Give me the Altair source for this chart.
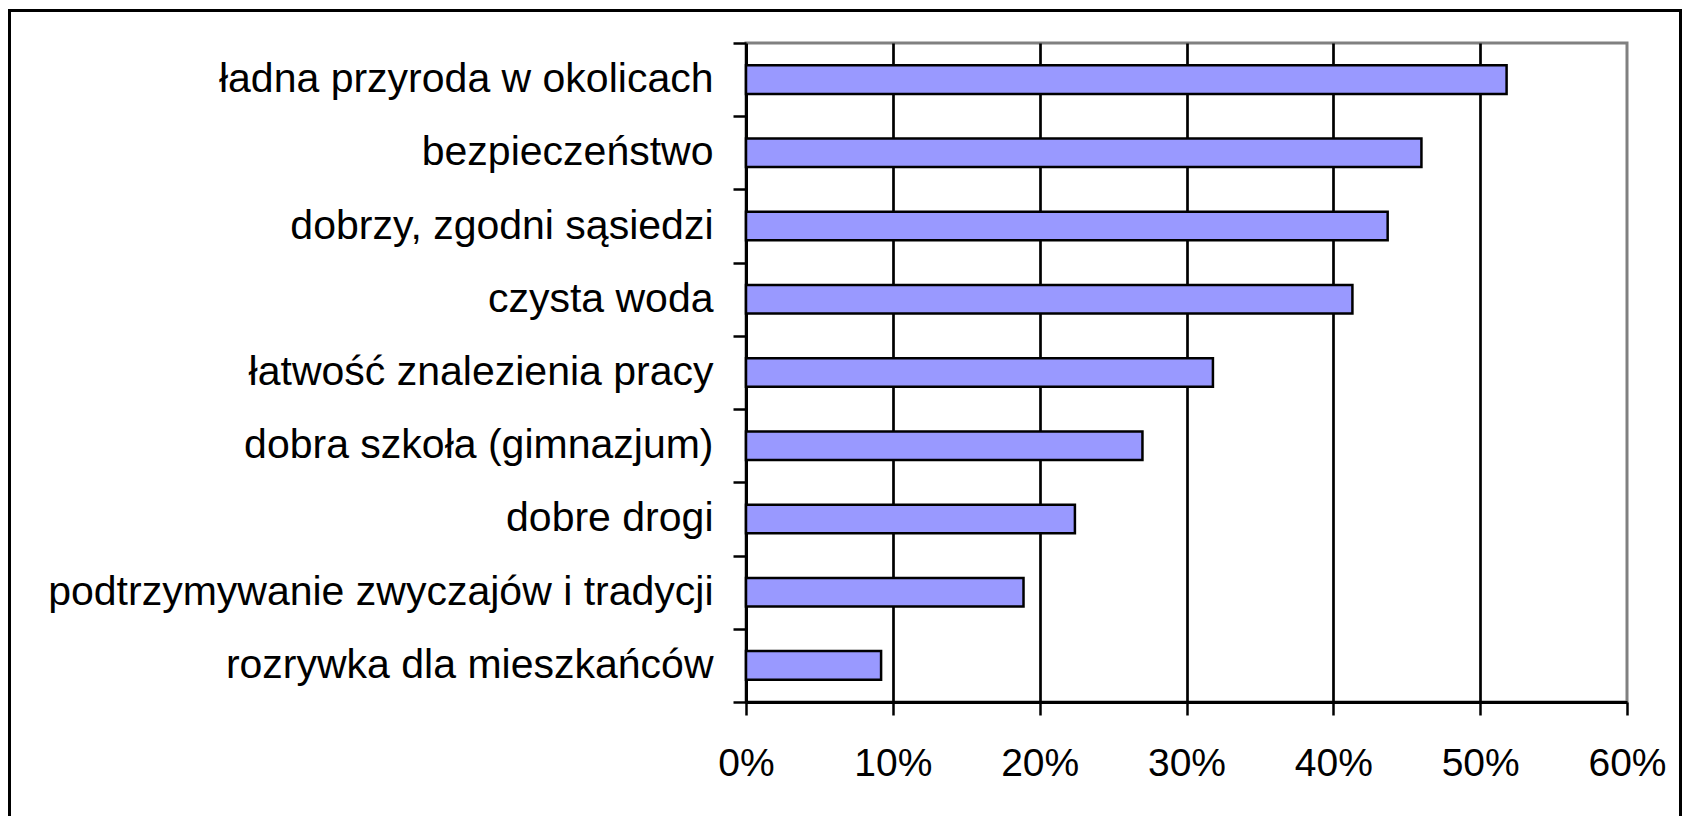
import altair as alt
import pandas as pd

categories = [
    "ładna przyroda w okolicach",
    "bezpieczeństwo",
    "dobrzy, zgodni sąsiedzi",
    "czysta woda",
    "łatwość znalezienia pracy",
    "dobra szkoła (gimnazjum)",
    "dobre drogi",
    "podtrzymywanie zwyczajów i tradycji",
    "rozrywka dla mieszkańców",
]
values = [0.518, 0.460, 0.437, 0.413, 0.318, 0.270, 0.224, 0.189, 0.092]
tick_values = [0, 0.1, 0.2, 0.3, 0.4, 0.5, 0.6]

df = pd.DataFrame({"cat": categories, "val": values})
frame_df = pd.DataFrame({"f": [0]})

FONT = "Liberation Sans"

bars = alt.Chart(df).mark_bar(
    fill="#9999FF", stroke="black", strokeWidth=2.5,
    height=alt.RelativeBandSize(0.39),
).encode(
    x=alt.X(
        "val:Q",
        scale=alt.Scale(domain=[0, 0.6], nice=False, zero=True),
        axis=alt.Axis(
            values=tick_values,
            format=".0%",
            title=None,
            grid=True,
            gridColor="black",
            gridWidth=2.7,
            gridOpacity=alt.condition("datum.value <= 0 || datum.value >= 0.6", alt.value(0), alt.value(1)),
            domainColor="black",
            domainWidth=3,
            tickColor="black",
            tickWidth=2.5,
            tickSize=13,
            labelPadding=29,
            labelFont=FONT,
            labelFontSize=39,
            labelColor="black",
            labelFlush=False,
        ),
    ),
    y=alt.Y(
        "cat:N",
        sort=categories,
        scale=alt.Scale(paddingInner=0, paddingOuter=0),
        axis=alt.Axis(
            title=None,
            tickBand="extent",
            domainColor="black",
            domainWidth=3,
            tickColor="black",
            tickWidth=2.5,
            tickSize=13,
            labelPadding=20,
            labelFont=FONT,
            labelFontSize=41,
            labelColor="black",
            labelLimit=1000,
        ),
    ),
)

frame = alt.Chart(frame_df).mark_rect(
    fill=None, stroke="black", strokeWidth=3
).encode(
    x=alt.value(-736.5),
    x2=alt.value(934.5),
    y=alt.value(-32.5),
    y2=alt.value(840),
)

chart = alt.layer(bars, frame).properties(
    width=881,
    height=659,
    autosize=alt.AutoSizeParams(type="none"),
    padding={"left": 738, "top": 35, "right": 55, "bottom": 114},
    background="white",
).configure_view(
    stroke="#808080", strokeWidth=3
)

chart.save("out.html", embed_options={"renderer": "svg", "actions": False})
